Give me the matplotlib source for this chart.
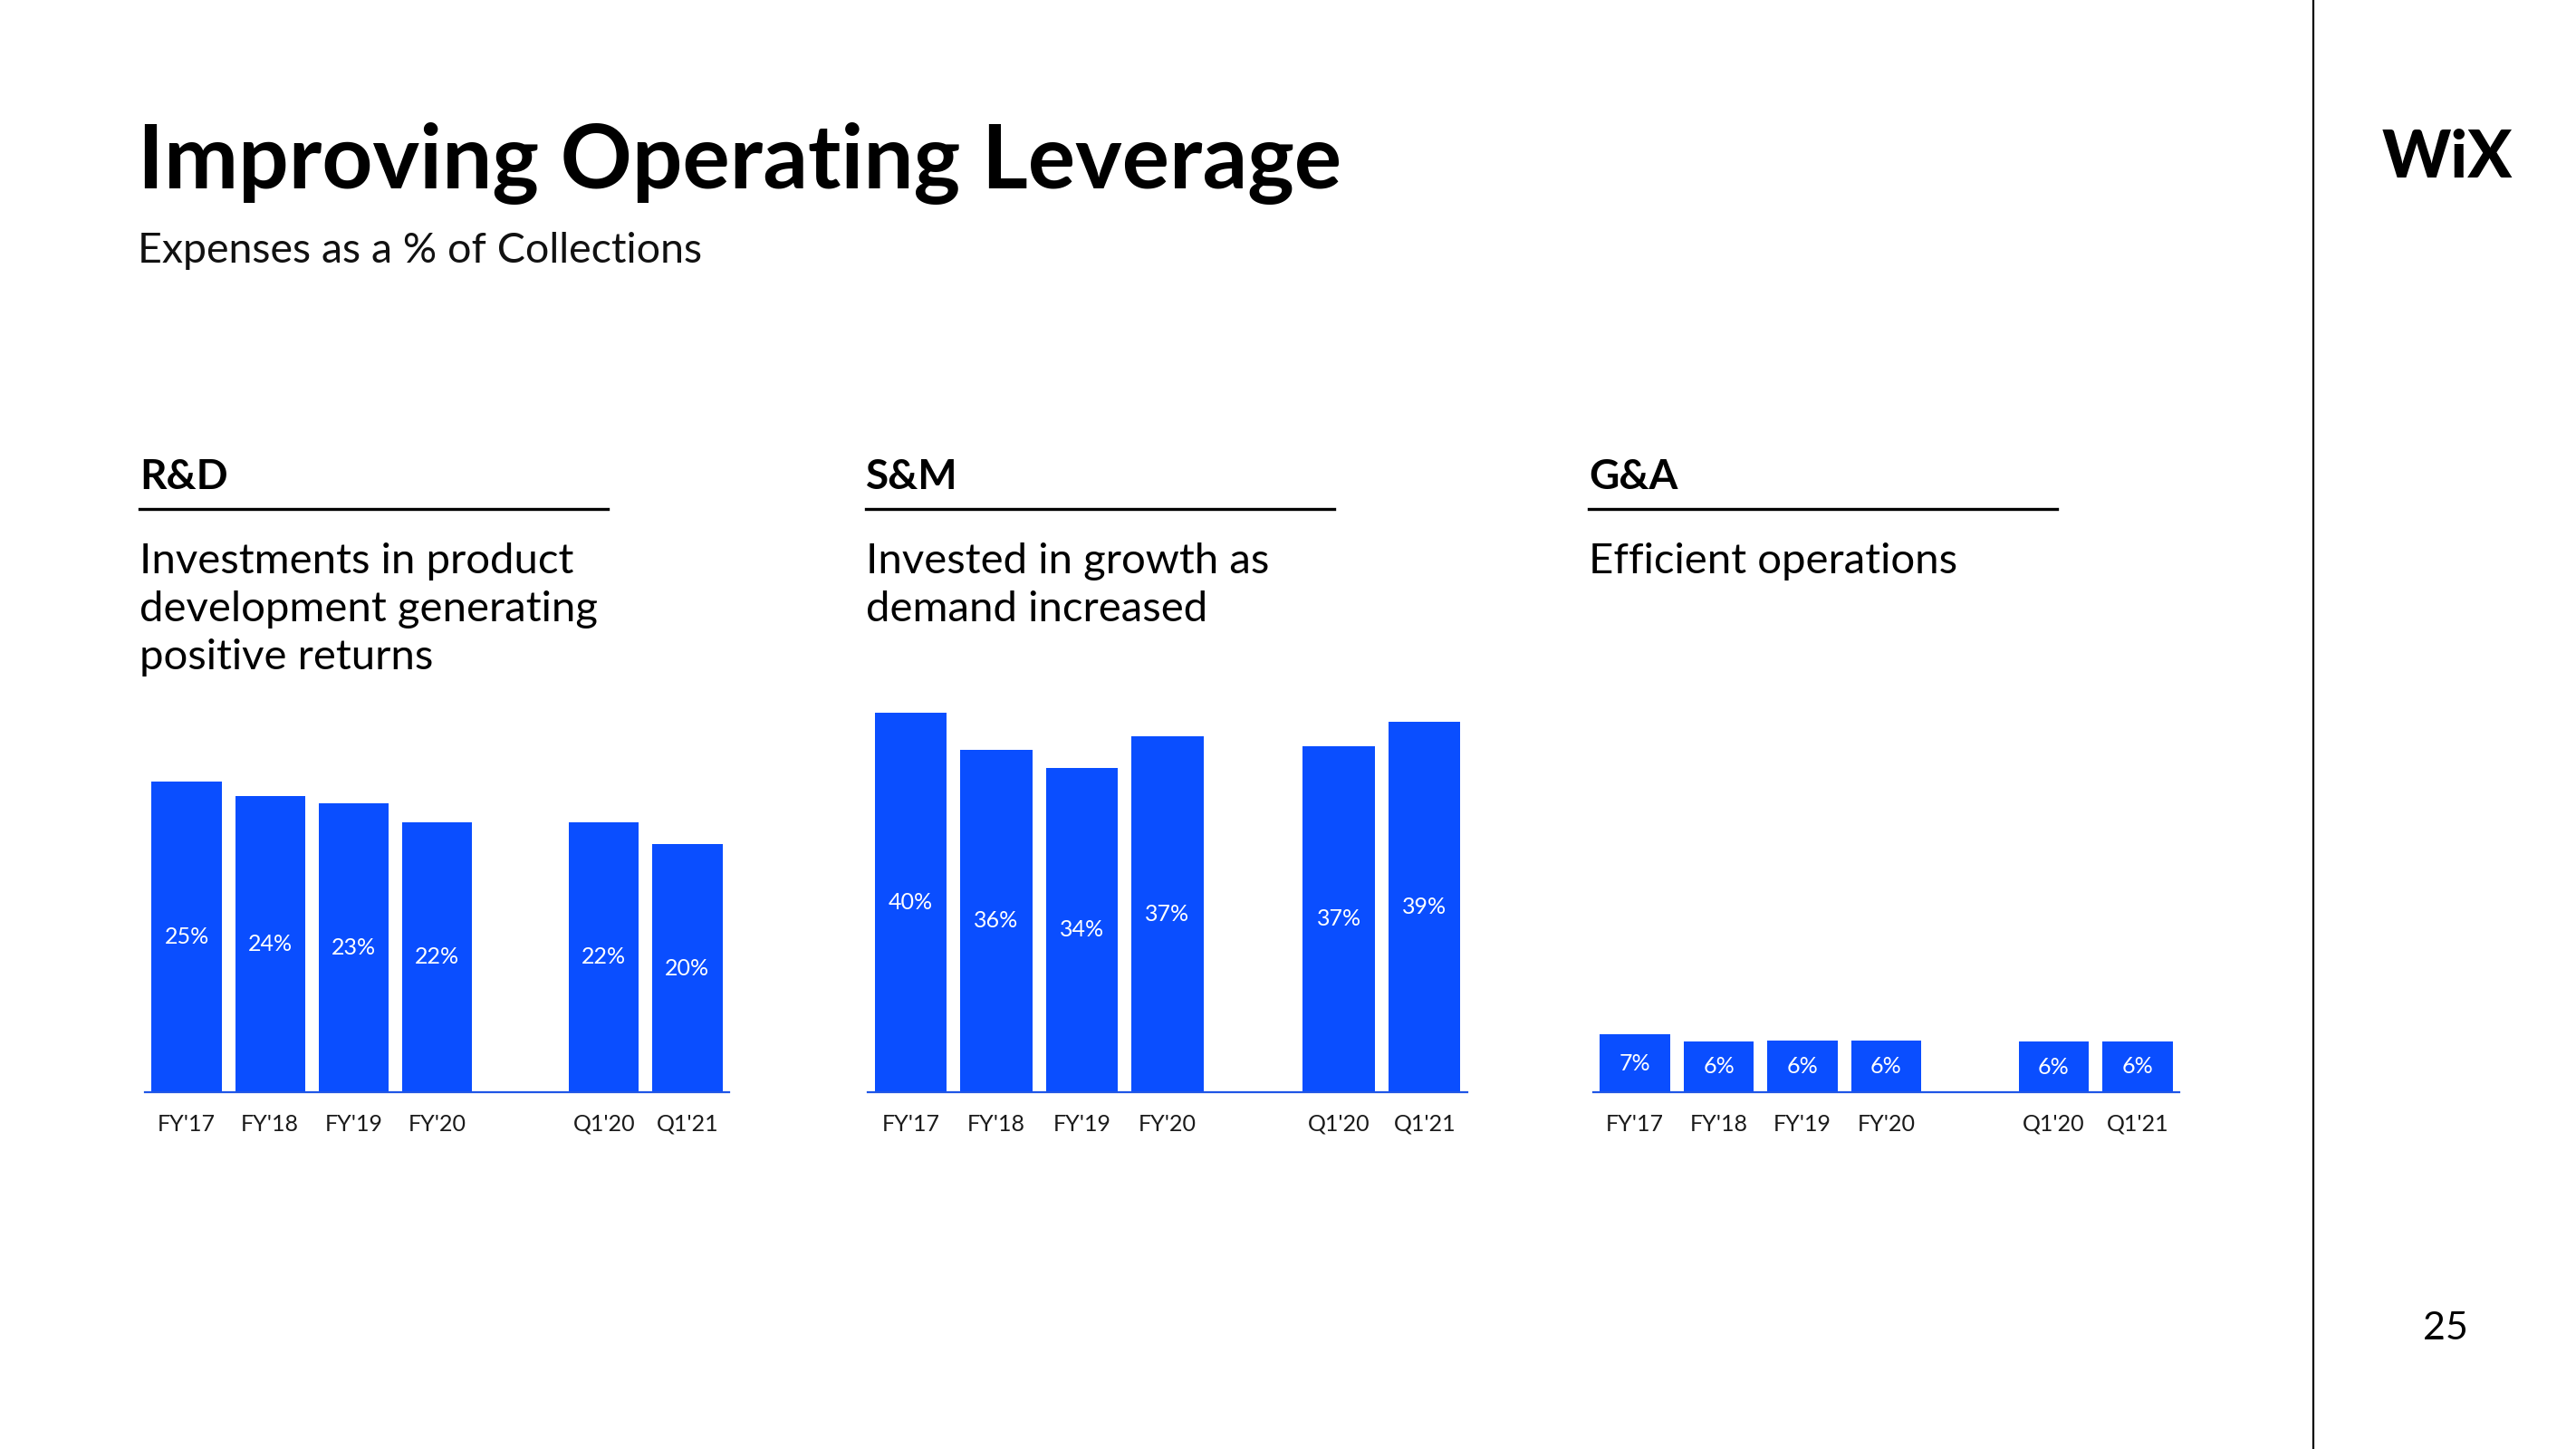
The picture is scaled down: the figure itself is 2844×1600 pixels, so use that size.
import matplotlib.pyplot as plt
from matplotlib.lines import Line2D

plt.rcParams['font.family'] = ['Lato', 'DejaVu Sans']

# Data (percent of collections)
categories = ["FY'17", "FY'18", "FY'19", "FY'20", "Q1'20", "Q1'21"]
positions = [0, 1, 2, 3, 5, 6]

rd_values = [25.1, 23.9, 23.3, 21.8, 21.8, 20.0]
rd_labels = ['25%', '24%', '23%', '22%', '22%', '20%']
sm_values = [40.0, 36.1, 34.2, 37.5, 36.5, 39.0]
sm_labels = ['40%', '36%', '34%', '37%', '37%', '39%']
ga_values = [6.9, 6.05, 6.15, 6.15, 6.0, 6.05]
ga_labels = ['7%', '6%', '6%', '6%', '6%', '6%']

headings = ['R&D', 'S&M', 'G&A']
descriptions = [
    ['Investments in product', 'development generating', 'positive returns'],
    ['Invested in growth as', 'demand increased'],
    ['Efficient operations'],
]

BLUE = '#0A4EFF'
LINE_BLUE = '#1F56E6'
W, H = 2844, 1600

fig = plt.figure(figsize=(W / 100, H / 100), dpi=100)
fig.patch.set_facecolor('white')


def fx(x):
    return x / W


def fy(y):
    return 1 - y / H


# title block
fig.text(fx(152), fy(208), 'Improving Operating Leverage', fontsize=70.5,
         fontweight='bold', va='baseline', ha='left', color='black')
fig.text(fx(152), fy(290), 'Expenses as a % of Collections', fontsize=33.5,
         va='baseline', ha='left', color='#111111')

# right side: divider, logo, page number
fig.add_artist(Line2D([fx(2554), fx(2554)], [0, 1], color='black', linewidth=1.6))
fig.text(fx(2702), fy(175), 'WiX', fontsize=52, fontweight='black',
         ha='center', va='center', color='black')
fig.text(fx(2700), fy(1467), '25', fontsize=31, ha='center', va='center', color='black')

# three panels
panel_left = [160, 958, 1759]
panel_right = [805, 1620, 2406]
text_left = [154, 956, 1754]
y_max = [37.0, 48.3, 54.6]
values = [rd_values, sm_values, ga_values]
labels = [rd_labels, sm_labels, ga_labels]

for i in range(3):
    x0 = text_left[i]
    fig.text(fx(x0), fy(540), headings[i], fontsize=33, fontweight='bold',
             va='baseline', ha='left', color='black')
    fig.add_artist(Line2D([fx(x0), fx(x0 + 517)], [fy(562), fy(562)],
                          color='black', linewidth=2.4))
    for j, line in enumerate(descriptions[i]):
        fig.text(fx(x0), fy(633 + j * 53), line, fontsize=34,
                 va='baseline', ha='left', color='black')

    ax = fig.add_axes([fx(panel_left[i]), fy(1206), fx(panel_right[i] - panel_left[i]),
                       (1206 - 700) / H])
    ax.bar(positions, values[i], width=0.84, color=BLUE)
    for p, v, lab in zip(positions, values[i], labels[i]):
        ax.text(p, v / 2, lab, ha='center', va='center', color='white', fontsize=18)
    ax.set_xlim(-0.5, 6.5)
    ax.set_ylim(0, y_max[i])
    ax.set_xticks(positions)
    ax.set_xticklabels(categories, fontsize=18, color='#1a1a1a')
    ax.tick_params(axis='x', length=0, pad=17)
    ax.set_yticks([])
    for side in ['top', 'left', 'right']:
        ax.spines[side].set_visible(False)
    ax.spines['bottom'].set_color(LINE_BLUE)
    ax.spines['bottom'].set_linewidth(1.6)
    ax.set_facecolor('none')

fig.savefig('out.png', dpi=100)
